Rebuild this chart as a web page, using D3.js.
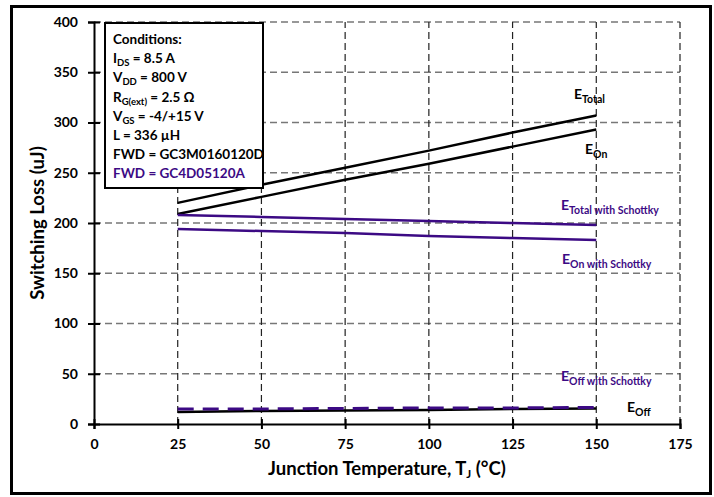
<!DOCTYPE html>
<html>
<head>
<meta charset="utf-8">
<script src="https://cdn.jsdelivr.net/npm/d3@7"></script>
<style>
  body { margin: 0; background: #fff; }
  svg text { font-family: Lato, "Open Sans", sans-serif; font-weight: bold; }
</style>
</head>
<body>
<svg id="chart" width="714" height="497"></svg>
<script>
  // data
  var temps    = [25, 50, 75, 100, 125, 150];
  var eTotal   = [220, 238, 255, 272, 290, 307];
  var eOn      = [209, 226, 243, 259, 276, 293];
  var eTotalS  = [208, 206, 204, 202, 200, 198];
  var eOnS     = [194, 192, 190, 187, 185, 183];
  var eOff     = [12, 13, 13.5, 14, 15, 15.5];
  var eOffS    = [15, 15, 15.5, 16, 16, 16.5];

  var xTicks = [0, 25, 50, 75, 100, 125, 150, 175];
  var yTicks = [0, 50, 100, 150, 200, 250, 300, 350, 400];

  var conditions = [
    { main: "Conditions:", sub: "", rest: "" },
    { main: "I", sub: "DS", rest: " = 8.5 A" },
    { main: "V", sub: "DD", rest: " = 800 V" },
    { main: "R", sub: "G(ext)", rest: " = 2.5 \u03A9" },
    { main: "V", sub: "GS", rest: " = -4/+15 V" },
    { main: "L = 336 \u00B5H", sub: "", rest: "" },
    { main: "FWD = GC3M0160120D", sub: "", rest: "" },
    { main: "FWD = GC4D05120A", sub: "", rest: "", purple: true }
  ];

  var purple = "#3c0a84";

  var svg = d3.select("#chart");

  // outer frame
  svg.append("rect")
    .attr("x", 11.5).attr("y", 6.5)
    .attr("width", 699).attr("height", 487)
    .attr("fill", "none").attr("stroke", "#000").attr("stroke-width", 3);

  var x = d3.scaleLinear().domain([0, 175]).range([94, 680]);
  var y = d3.scaleLinear().domain([0, 400]).range([424, 22]);

  // grid
  var grid = svg.append("g");
  grid.selectAll(".hg").data(yTicks.slice(1)).enter().append("line")
    .attr("x1", x(0)).attr("x2", x(175))
    .attr("y1", function (d) { return y(d); })
    .attr("y2", function (d) { return y(d); })
    .attr("stroke", "#777").attr("stroke-width", 1.5)
    .attr("stroke-dasharray", "7,4");
  grid.selectAll(".vg").data(xTicks.slice(1)).enter().append("line")
    .attr("y1", y(0)).attr("y2", y(400))
    .attr("x1", function (d) { return x(d); })
    .attr("x2", function (d) { return x(d); })
    .attr("stroke", "#222").attr("stroke-width", 1.2)
    .attr("stroke-dasharray", "7,4");

  // axes
  var xAxis = svg.append("g")
    .attr("transform", "translate(0," + y(0) + ")")
    .call(d3.axisBottom(x).tickValues(xTicks).tickSize(5).tickPadding(10));
  var yAxis = svg.append("g")
    .attr("transform", "translate(" + x(0) + ",0)")
    .call(d3.axisLeft(y).tickValues(yTicks).tickSize(6).tickPadding(10));

  [xAxis, yAxis].forEach(function (a) {
    a.select(".domain").attr("stroke", "#000").attr("stroke-width", 2);
    a.selectAll(".tick line").attr("stroke", "#000").attr("stroke-width", 2);
    a.selectAll(".tick text").attr("fill", "#000").style("font-size", "14px")
      .style("font-family", "Lato, sans-serif").style("font-weight", "bold");
  });
  // ticks crossing the axis
  xAxis.selectAll(".tick").append("line").attr("y2", -5).attr("stroke", "#000").attr("stroke-width", 2);
  yAxis.selectAll(".tick").append("line").attr("x2", 6).attr("stroke", "#000").attr("stroke-width", 2);

  // lines
  var line = function (vals) {
    return d3.line()
      .x(function (d, i) { return x(temps[i]); })
      .y(function (d) { return y(d); })(vals);
  };
  var series = [
    { v: eTotal, c: "#000", w: 2.5 },
    { v: eOn, c: "#000", w: 2.5 },
    { v: eTotalS, c: purple, w: 2.5 },
    { v: eOnS, c: purple, w: 2.5 },
    { v: eOff, c: "#000", w: 2.5 },
    { v: eOffS, c: purple, w: 3, dash: "16,9" }
  ];
  svg.selectAll(".series").data(series).enter().append("path")
    .attr("d", function (d) { return line(d.v); })
    .attr("fill", "none")
    .attr("stroke", function (d) { return d.c; })
    .attr("stroke-width", function (d) { return d.w; })
    .attr("stroke-dasharray", function (d) { return d.dash || null; });

  // curve labels
  var labels = [
    { x: 574, y: 99, sub: "Total", c: "#000" },
    { x: 585, y: 154, sub: "On", c: "#000" },
    { x: 561, y: 210, sub: "Total with Schottky", c: purple },
    { x: 562, y: 264, sub: "On with Schottky", c: purple },
    { x: 561, y: 381, sub: "Off with Schottky", c: purple },
    { x: 627, y: 412, sub: "Off", c: "#000" }
  ];
  labels.forEach(function (l) {
    var t = svg.append("text").attr("x", l.x).attr("y", l.y)
      .attr("fill", l.c).style("font-size", "14px");
    t.append("tspan").text("E");
    t.append("tspan").attr("dy", 4).style("font-size", "10.5px").text(l.sub);
  });

  // conditions box
  svg.append("rect")
    .attr("x", 105).attr("y", 23)
    .attr("width", 158).attr("height", 165)
    .attr("fill", "#fff").attr("stroke", "#000").attr("stroke-width", 2);
  conditions.forEach(function (c, i) {
    var t = svg.append("text").attr("x", 113).attr("y", 44 + i * 19.2)
      .attr("fill", c.purple ? purple : "#000").style("font-size", "13.5px");
    t.append("tspan").text(c.main);
    if (c.sub) {
      t.append("tspan").attr("dy", 3).style("font-size", "9.5px").text(c.sub);
      t.append("tspan").attr("dy", -3).text(c.rest);
    }
  });

  // axis titles
  svg.append("text")
    .attr("x", 387).attr("y", 475)
    .attr("text-anchor", "middle").style("font-size", "18.5px")
    .call(function (t) {
      t.append("tspan").text("Junction Temperature, T");
      t.append("tspan").attr("dy", 3).style("font-size", "11.5px").text("J");
      t.append("tspan").attr("dy", -3).text(" (\u00B0C)");
    });
  svg.append("text")
    .attr("transform", "translate(44,223) rotate(-90)")
    .attr("text-anchor", "middle").style("font-size", "18.5px")
    .text("Switching Loss (uJ)");
</script>
</body>
</html>
